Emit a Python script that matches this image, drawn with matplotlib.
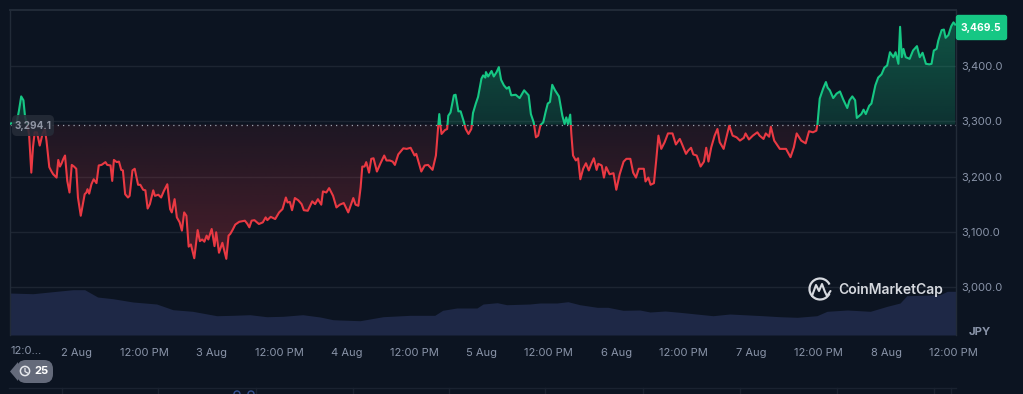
#Ethereum-style price chart in JPY, dark theme
import numpy as np
import matplotlib
matplotlib.use("Agg")
import matplotlib.pyplot as plt
from matplotlib.patches import Circle, Arc, FancyBboxPatch, Polygon, Rectangle
from matplotlib.path import Path
from matplotlib.ticker import FuncFormatter

plt.rcParams['font.family'] = ['Inter', 'DejaVu Sans']

#Hours counted from 2 Aug 00:00
hours = [-12.0, -11.8, -10.7, -10.3, -9.9, -9.5, -9.2, -8.8, -8.5, -8.1, -7.8, -7.5, -7.1, -6.6, -6.1, -5.7, -5.4,
         -4.9, -4.5, -4.2, -3.6, -3.3, -3.0, -2.7, -2.4, -2.1, -1.7, -1.3, -0.9, -0.5, -0.1, 0.2, 0.7, 1.4, 1.7, 1.9,
         2.2, 2.6, 3.0, 3.5, 3.9, 4.4, 5.1, 5.4, 6.0, 6.3, 6.6, 7.1, 7.5, 7.9, 8.2, 8.6, 9.1, 9.4, 9.9, 10.3, 10.9,
         11.3, 11.8, 12.2, 12.6, 13.0, 13.6, 13.9, 14.5, 15.0, 15.5, 16.1, 16.6, 16.9, 17.4, 17.8, 18.3, 18.7, 19.1,
         19.5, 19.9, 20.3, 20.9, 21.5, 21.9, 22.3, 22.7, 23.1, 23.4, 24.0, 24.5, 24.8, 25.3, 25.9, 26.6, 27.0, 27.3,
         27.7, 28.2, 28.9, 29.9, 30.3, 30.7, 31.1, 31.6, 32.4, 33.1, 33.6, 33.9, 34.5, 35.3, 36.0, 36.6, 37.2, 37.5,
         37.9, 38.3, 38.8, 39.4, 40.0, 40.4, 41.1, 41.9, 42.4, 42.9, 43.5, 43.8, 44.4, 44.9, 45.6, 46.2, 46.8,
         47.5, 48.3, 49.2, 49.6, 50.1, 50.5, 50.8, 51.2, 51.5, 52.0, 52.4, 52.8, 53.4, 54.0, 54.7, 55.1, 55.7, 56.2,
         56.6, 57.2, 58.1, 58.7, 59.4, 60.1, 60.4, 61.3, 61.9, 62.5, 63.3, 63.9, 64.3, 64.5, 64.7, 64.9, 65.5, 65.9,
         66.1, 66.5, 67.1, 67.4, 67.9, 68.3, 68.9, 69.2, 69.7, 70.2, 70.5, 71.0, 71.4, 72.0, 72.3, 72.7, 72.8, 73.2,
         73.5, 73.8, 74.2, 74.7, 75.1, 75.5, 76.0, 76.5, 76.9, 77.3, 78.1, 78.8, 79.6, 80.4, 80.8, 81.3, 81.7, 82.1,
         82.5, 83.0, 83.4, 83.8, 84.2, 84.6, 85.1, 85.8, 86.4, 86.8, 87.1, 87.4, 87.8, 88.0, 88.3, 88.8, 89.2, 89.6,
         90.1, 90.6, 91.1, 91.6, 92.0, 92.5, 92.8, 93.4, 93.8, 94.2, 94.8, 95.5, 96.0, 96.6, 97.3, 97.8, 98.5, 99.0,
         99.5, 100.0, 100.9, 101.2, 101.7, 102.1, 102.7, 103.1, 103.5, 104.0, 104.6, 105.2, 106.0, 106.6, 107.3,
         107.8, 108.4, 108.8, 109.3, 109.7, 110.3, 111.0, 111.6, 112.0, 112.4, 112.9, 113.5, 114.0, 114.4, 115.1,
         116.1, 116.7, 117.4, 118.0, 118.7, 119.0, 119.6, 120.3, 121.1, 121.5, 122.2, 122.6, 123.2, 123.5, 124.1,
         125.1, 126.2, 127.0, 127.6, 128.1, 128.9, 129.7, 130.3, 131.0, 131.6, 131.8, 132.2, 132.8, 133.3, 133.6,
         134.0, 134.6, 135.2, 135.8, 136.4, 137.1, 137.5, 138.0, 138.5, 138.8, 139.6, 140.0, 140.4, 141.0, 141.4,
         142.1, 142.6, 143.2, 143.7, 144.2, 144.7, 145.3, 145.7, 146.2, 146.5, 146.8, 147.1, 147.5, 148.2, 148.8,
         149.5, 150.0, 150.5, 151.1, 151.7, 152.1, 152.5, 153.0, 153.3, 153.9, 154.3, 154.6, 155.1, 155.6, 156.0, 156.3]

prices = [3294, 3296, 3298, 3319, 3345, 3338, 3307, 3294, 3277, 3207, 3253, 3280, 3280, 3256, 3277, 3286, 3265,
          3217, 3209, 3204, 3198, 3230, 3218, 3224, 3232, 3238, 3192, 3171, 3221, 3218, 3214, 3162, 3129, 3168, 3171, 3177,
          3169, 3186, 3195, 3188, 3220, 3221, 3226, 3221, 3220, 3192, 3230, 3226, 3227, 3212, 3211, 3168, 3162, 3165, 3211, 3214, 3185,
          3185, 3176, 3175, 3142, 3150, 3175, 3165, 3167, 3162, 3174, 3186, 3141, 3135, 3159, 3126, 3117, 3102, 3135,
          3129, 3073, 3077, 3052, 3103, 3083, 3086, 3082, 3093, 3086, 3105, 3074, 3099, 3062, 3080, 3051, 3093, 3096,
          3103, 3113, 3118, 3120, 3115, 3108, 3120, 3121, 3114, 3117, 3126, 3121, 3127, 3123, 3135, 3141, 3162, 3153,
          3154, 3139, 3161, 3157, 3150, 3139, 3138, 3155, 3150, 3159, 3149, 3173, 3171, 3179, 3165, 3144, 3149,
          3152, 3135, 3161, 3149, 3147, 3180, 3218, 3218, 3226, 3207, 3232, 3233, 3209, 3223, 3238, 3229, 3229, 3227,
          3221, 3240, 3251, 3250, 3252, 3238, 3241, 3209, 3220, 3221, 3212, 3238, 3290, 3313, 3292, 3277, 3284, 3286,
          3310, 3316, 3347, 3348, 3318, 3318, 3298, 3286, 3277, 3286, 3315, 3332, 3344, 3377, 3383, 3379, 3389, 3381,
          3386, 3391, 3381, 3389, 3398, 3375, 3365, 3359, 3362, 3347, 3348, 3342, 3356, 3347, 3313, 3298, 3271, 3274,
          3293, 3298, 3316, 3332, 3335, 3366, 3356, 3345, 3310, 3295, 3307, 3295, 3312, 3277, 3238, 3229, 3233, 3195,
          3214, 3224, 3211, 3224, 3233, 3212, 3223, 3220, 3198, 3217, 3204, 3206, 3176, 3204, 3227, 3232, 3232, 3207,
          3198, 3214, 3214, 3191, 3198, 3185, 3188, 3229, 3274, 3250, 3262, 3278, 3278, 3258, 3268,
          3256, 3241, 3247, 3252, 3240, 3238, 3218, 3227, 3252, 3227, 3253, 3274, 3286, 3262, 3250,
          3292, 3274, 3271, 3265, 3270, 3278, 3267, 3274, 3280, 3274, 3268, 3278, 3272, 3290, 3265,
          3250, 3250, 3235, 3253, 3278, 3265, 3260, 3282, 3280, 3283, 3295, 3341, 3359, 3371, 3361,
          3356, 3342, 3350, 3354, 3339, 3324, 3338, 3345, 3338, 3306, 3313, 3321, 3313, 3328, 3332,
          3365, 3379, 3385, 3397, 3401, 3425, 3416, 3425, 3404, 3471, 3416, 3431, 3416, 3413, 3428,
          3436, 3416, 3424, 3404, 3403, 3404, 3428, 3431, 3446, 3465, 3466, 3451, 3456, 3472, 3479, 3475]

vol_hours = [-12.0, -7.8, -3.6, -0.7, 1.4, 3.7, 6.4, 10.0, 14.2, 17.1, 20.6, 24.9, 27.8, 30.8, 33.8, 36.7, 40.2, 43.3,
             45.6, 46.8, 50.4, 54.5, 59.3, 63.7, 65.1, 67.6, 71.2, 72.3, 74.8, 76.5, 80.6, 82.4, 85.4, 87.4, 89.5, 92.6,
             94.5, 97.2, 100.2, 102.0, 104.7, 107.3, 113.2, 116.2, 122.1, 125.1, 128.2, 131.7, 133.5, 137.1, 141.2,
             144.2, 146.5, 147.7, 153.6, 154.9, 156.5]
volumes = [42, 41.3, 43.7, 45.3, 45.3, 38, 36.3, 33, 31, 25.3, 23.7, 19.3, 19.7, 20.3, 18.3, 18.7, 20.3, 18,
           15.3, 15, 14.3, 18.3, 19.7, 19.7, 24.7, 27, 27, 31, 32.3, 30.3, 31, 32, 32, 33.3, 30.3, 27.7,
           27.7, 24.7, 25, 23, 24, 22.7, 19.3, 21, 19.3, 18.3, 17.7, 19.3, 23.7, 25, 23.7,
           28.7, 32, 39.3, 40.3, 43.7, 43.7]

open_price = 3294.1
last_price = 3469.5
y_ticks = [3000, 3100, 3200, 3300, 3400]
x_ticks = [0, 12, 24, 36, 48, 60, 72, 84, 96, 108, 120, 132, 144, 156]
x_labels = ["2 Aug", "12:00 PM", "3 Aug", "12:00 PM", "4 Aug", "12:00 PM", "5 Aug", "12:00 PM",
            "6 Aug", "12:00 PM", "7 Aug", "12:00 PM", "8 Aug", "12:00 PM"]

bg = "#0c1421"
grid_col = "#1d2532"
label_col = "#8a94a9"
red = "#ea3943"
green = "#16c784"

W, H = 1023, 394
fig = plt.figure(figsize=(W / 100, H / 100), dpi=100, facecolor=bg)
rect = [9.5 / W, (H - 335) / H, (956 - 9.5) / W, 325 / H]

#Volume goes in its own axes, 1 unit is one pixel high
ax_vol = fig.add_axes(rect, zorder=1)
ax_vol.set_facecolor(bg)
ax_vol.fill_between(vol_hours, volumes, 0, color="#1e2846", lw=0)
ax_vol.set_xlim(-11.98, 156.45)
ax_vol.set_ylim(0, 325)
ax_vol.set_xticks([])
ax_vol.set_yticks([])
for s in ax_vol.spines.values():
    s.set_visible(False)

ax = fig.add_axes(rect, zorder=2)
ax.patch.set_visible(False)
xlim = (-11.98, 156.45)
ylim = (2913.1, 3501.4)

ax.set_yticks(y_ticks)
ax.yaxis.tick_right()
ax.yaxis.set_major_formatter(FuncFormatter(lambda v, p: format(v, ",.1f")))
ax.set_xticks(x_ticks)
ax.set_xticklabels(x_labels)
ax.tick_params(axis="both", length=0, labelcolor=label_col, labelsize=8)
ax.tick_params(axis="y", pad=3.5)
ax.tick_params(axis="x", pad=9)
ax.grid(axis="y", color=grid_col, lw=1)
ax.set_axisbelow(True)
ax.spines["bottom"].set_visible(False)
for side in ["top", "left", "right"]:
    ax.spines[side].set_color("#222b38")
    ax.spines[side].set_linewidth(1)
ax.spines["top"].set_linewidth(1.4)

#Gradient fills, clipped to the area between line and opening price
t = np.array(hours)
p = np.array(prices, dtype=float)
up = ax.fill_between(t, p, open_price, where=p >= open_price, interpolate=True, color="none", lw=0)
down = ax.fill_between(t, p, open_price, where=p <= open_price, interpolate=True, color="none", lw=0)

grad_up = np.zeros((100, 2, 4))
grad_up[:, :, :3] = matplotlib.colors.to_rgb(green)
grad_up[:, :, 3] = np.linspace(0.36, 0.17, 100)[:, None]
im_up = ax.imshow(grad_up, extent=[xlim[0], xlim[1], open_price, 3480], origin="upper", aspect="auto", zorder=1.5)
im_up.set_clip_path(Path.make_compound_path(*up.get_paths()), transform=ax.transData)

grad_down = np.zeros((100, 2, 4))
grad_down[:, :, :3] = matplotlib.colors.to_rgb(red)
grad_down[:, :, 3] = np.linspace(0.08, 0.27, 100)[:, None]
im_down = ax.imshow(grad_down, extent=[xlim[0], xlim[1], 3050, open_price], origin="upper", aspect="auto", zorder=1.5)
im_down.set_clip_path(Path.make_compound_path(*down.get_paths()), transform=ax.transData)

ax.axhline(open_price, color="#9aa1ad", lw=0.9, ls=(0, (1, 3.2)), zorder=2)

#Same line twice, green above the opening price and red under it
line_up, = ax.plot(t, p, color=green, lw=1.5, zorder=3, solid_joinstyle="round")
line_up.set_clip_path(Rectangle((xlim[0], open_price), xlim[1] - xlim[0], 400, transform=ax.transData))
line_down, = ax.plot(t, p, color=red, lw=1.5, zorder=3, solid_joinstyle="round")
line_down.set_clip_path(Rectangle((xlim[0], 2900), xlim[1] - xlim[0], open_price - 2900, transform=ax.transData))

ax.set_xlim(xlim)
ax.set_ylim(ylim)

#Everything else sits in a pixel-sized overlay
ov = fig.add_axes([0, 0, 1, 1], zorder=5)
ov.set_xlim(0, W)
ov.set_ylim(H, 0)
ov.axis("off")

ov.text(26, 350.5, "12:0...", color=label_col, fontsize=8, ha="center", va="center")
ov.text(980, 332, "JPY", color=label_col, fontsize=8.2, fontweight="bold", ha="center", va="center")

ov.add_patch(FancyBboxPatch((956.5, 15.5), 50, 24, boxstyle="round,pad=0,rounding_size=2", fc=green, ec=green, lw=1))
ov.text(981, 28, format(last_price, ",.1f"), color="white", fontsize=7.4, fontweight="bold", ha="center", va="center")

ov.add_patch(FancyBboxPatch((12, 115), 42, 21, boxstyle="round,pad=0,rounding_size=5", fc="#262c38", ec="none", alpha=0.88))
ov.text(33.5, 125.5, format(open_price, ",.1f"), color="#8f95a3", fontsize=7.2, fontweight="bold", ha="center", va="center")

#CoinMarketCap mark and name
ov.add_patch(Arc((820, 289), 21, 21, theta1=25, theta2=335, color="#d6d9df", lw=1.6))
ov.plot([812, 816, 819, 822, 825, 827, 830.5], [296, 285, 291, 284, 292, 296, 291], color="#d6d9df", lw=1.5,
        solid_capstyle="round")
ov.text(838, 290, "CoinMarketCap", color="#d6d9df", fontsize=10, fontweight="semibold", ha="left", va="center")

#Pin with clock and count
ov.add_patch(FancyBboxPatch((17, 360), 36, 23, boxstyle="round,pad=0,rounding_size=9", fc="#646a7a", ec="none"))
ov.add_patch(Polygon([[10, 371.5], [18, 362], [18, 381]], fc="#646a7a", ec="none"))
ov.add_patch(Circle((25, 371), 4.6, fc="none", ec="#e6e8ec", lw=1.1))
ov.plot([25, 25, 27.5], [368.5, 371.5, 373], color="#e6e8ec", lw=0.9)
ov.text(41, 371.5, "25", color="white", fontsize=8, fontweight="bold", ha="center", va="center")

#Cut off strip along the lower edge
ov.plot([9, 956], [387.5, 387.5], color="#1a2230", lw=1)
for x in [62, 158, 256, 353, 449, 545, 643, 740, 837, 934, 951]:
    ov.plot([x, x], [387.5, 394], color="#1a2230", lw=1)
ov.add_patch(Arc((237, 394), 6, 6, theta1=180, theta2=360, color="#35508f", lw=1))
ov.add_patch(Arc((251, 394), 6, 6, theta1=180, theta2=360, color="#35508f", lw=1))

fig.savefig("out.png", dpi=100, facecolor=bg)
